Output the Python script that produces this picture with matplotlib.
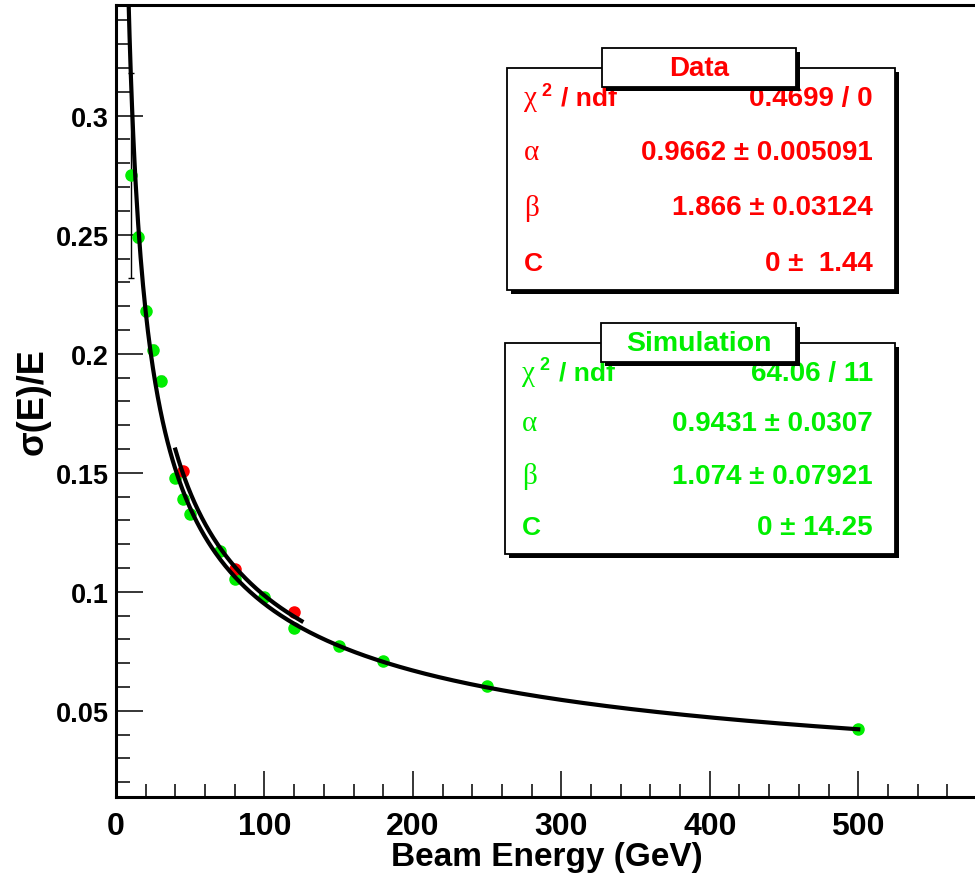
import numpy as np
import matplotlib
matplotlib.use("Agg")
import matplotlib.pyplot as plt
from matplotlib.patches import Rectangle
from matplotlib.ticker import MultipleLocator

# ---- data ----
sim_energy = [10, 15, 20, 25, 30, 40, 45, 50, 70, 80, 100, 120, 150, 180, 250, 500]
sim_res = [0.275, 0.249, 0.218, 0.2017, 0.1887, 0.1479, 0.1388, 0.1325, 0.117,
           0.1052, 0.098, 0.0847, 0.0773, 0.071, 0.0602, 0.0423]
sim_err = [0.043, 0.002, 0.002, 0.002, 0.002, 0.001, 0.001, 0.001, 0.001,
           0.001, 0.001, 0.001, 0.001, 0.001, 0.001, 0.001]

data_energy = [45, 80, 120]
data_res = [0.1506, 0.1094, 0.0913]
data_err = [0.001, 0.001, 0.001]

# fit parameters shown in the stat boxes
data_fit = {"alpha": 0.9662, "beta": 1.866, "C": 0.0}
sim_fit = {"alpha": 0.9431, "beta": 1.074, "C": 0.0}
data_fit_range = [40, 125]
sim_fit_range = [5, 500]

data_stats = ["0.4699 / 0", "0.9662 \u00b1 0.005091", "1.866 \u00b1 0.03124", "0 \u00b1  1.44"]
sim_stats = ["64.06 / 11", "0.9431 \u00b1 0.0307", "1.074 \u00b1 0.07921", "0 \u00b1 14.25"]

W, H = 975, 879
SANS = "Liberation Sans"
SERIF = "Liberation Serif"
GREEN = "#00ee00"
RED = "#ff0000"

def resolution(E, p):
    E = np.asarray(E, dtype=float)
    return np.sqrt(p["alpha"] ** 2 / E + (p["beta"] / E) ** 2 + p["C"] ** 2)

fig = plt.figure(figsize=(W / 100, H / 100), dpi=100)
ax = fig.add_axes([116 / W, 1 - 797.7 / H, 861 / W, (797.7 - 6) / H])

ax.errorbar(sim_energy, sim_res, yerr=sim_err, fmt="o", color=GREEN,
            ms=8, mec=GREEN, ecolor="black", elinewidth=1, capsize=2.5, zorder=2)
ax.errorbar(data_energy, data_res, yerr=data_err, fmt="o", color=RED,
            ms=8, mec=RED, ecolor="black", elinewidth=1, capsize=0, zorder=2)

Es = np.linspace(sim_fit_range[0], sim_fit_range[1], 600)
ax.plot(Es, resolution(Es, sim_fit), color="black", lw=3, zorder=3)
Ed = np.linspace(data_fit_range[0], data_fit_range[1], 200)
ax.plot(Ed, resolution(Ed, data_fit), color="black", lw=3, zorder=3)

ax.set_xlim(0, 580)
ax.set_ylim(0.0139, 0.3465)
ax.xaxis.set_major_locator(MultipleLocator(100))
ax.xaxis.set_minor_locator(MultipleLocator(20))
ax.yaxis.set_minor_locator(MultipleLocator(0.01))
ax.set_yticks([0.05, 0.1, 0.15, 0.2, 0.25, 0.3])
ax.set_yticklabels(["0.05", "0.1", "0.15", "0.2", "0.25", "0.3"])

ax.tick_params(axis="x", which="major", direction="in", length=18.7, width=1.1,
               top=False, pad=10, labelsize=23)
ax.tick_params(axis="x", which="minor", direction="in", length=9.4, width=1.1, top=False)
ax.tick_params(axis="y", which="major", direction="in", length=19.4, width=1.1,
               right=False, pad=5, labelsize=19.5)
ax.tick_params(axis="y", which="minor", direction="in", length=10, width=1.1, right=False)
for lab in ax.get_xticklabels() + ax.get_yticklabels():
    lab.set_fontfamily(SANS)
    lab.set_fontweight("bold")

for s in ax.spines.values():
    s.set_linewidth(2.2)

ax.set_xlabel("Beam Energy (GeV)", fontsize=24, fontweight="bold", family=SANS, labelpad=0)
ax.set_ylabel("\u03c3(E)/E", fontsize=26, fontweight="bold", family=SANS, labelpad=4)

def P(x, y):
    return x / W, 1 - y / H

def box(x0, y0, x1, y1, z):
    fig.add_artist(Rectangle(P(x0 + 4, y1 + 4), (x1 - x0) / W, (y1 - y0) / H,
                             transform=fig.transFigure, facecolor="black",
                             edgecolor="black", lw=0, zorder=z))
    fig.add_artist(Rectangle(P(x0, y1), (x1 - x0) / W, (y1 - y0) / H,
                             transform=fig.transFigure, facecolor="white",
                             edgecolor="black", lw=1.3, zorder=z + 0.1))

def stat_box(title, vals, color, frame, tbox, rows, tsize):
    x0, y0, x1, y1 = frame
    box(x0, y0, x1, y1, 10)
    lx, rx = x0 + 17, x1 - 22
    fig.text(*P(lx, rows[0]), "\u03c7", color=color, fontsize=21, family=SERIF,
             va="center", ha="left", zorder=11)
    fig.text(*P(lx + 17, rows[0] - 8), "2", color=color, fontsize=13, family=SANS,
             fontweight="bold", va="center", ha="left", zorder=11)
    fig.text(*P(lx + 37, rows[0]), "/ ndf", color=color, fontsize=19, family=SANS,
             fontweight="bold", va="center", ha="left", zorder=11)
    fig.text(*P(lx, rows[1]), "\u03b1", color=color, fontsize=21, family=SERIF,
             va="center", ha="left", zorder=11)
    fig.text(*P(lx, rows[2]), "\u03b2", color=color, fontsize=21, family=SERIF,
             va="center", ha="left", zorder=11)
    fig.text(*P(lx, rows[3]), "C", color=color, fontsize=19, family=SANS,
             fontweight="bold", va="center", ha="left", zorder=11)
    for v, ry in zip(vals, rows):
        fig.text(*P(rx, ry), v, color=color, fontsize=20, family=SANS,
                 fontweight="bold", va="center", ha="right", zorder=11)
    tx0, ty0, tx1, ty1 = tbox
    box(tx0, ty0, tx1, ty1, 12)
    fig.text(*P((tx0 + tx1) / 2, (ty0 + ty1) / 2 + 1), title, color=color, fontsize=tsize,
             family=SANS, fontweight="bold", va="center", ha="center", zorder=13)

stat_box("Data", data_stats, RED, (507, 69, 895, 291), (602, 49, 796, 88),
         [99, 153, 208, 264], 20)
stat_box("Simulation", sim_stats, GREEN, (505, 344, 895, 555), (601, 324, 796, 363),
         [374, 424, 477, 528], 20.5)

fig.savefig("out.png", dpi=100)
